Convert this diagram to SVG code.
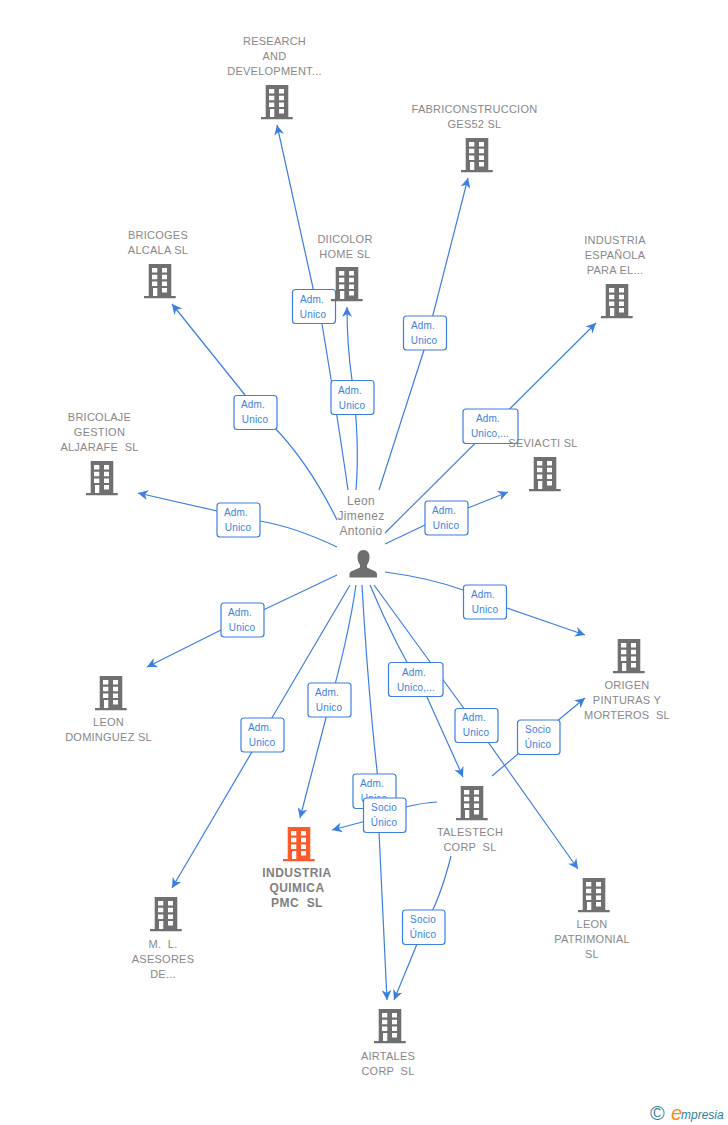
<svg xmlns="http://www.w3.org/2000/svg" xmlns:xlink="http://www.w3.org/1999/xlink" width="728" height="1125" viewBox="0 0 728 1125">
<style>
text{font-family:"Liberation Sans",Arial,sans-serif;white-space:pre}
.n{font-size:11px;fill:#888;text-anchor:middle;letter-spacing:.25px}
.main{font-size:12px;font-weight:bold;fill:#808080;text-anchor:middle;letter-spacing:.45px}
.person{font-size:12px;fill:#888;text-anchor:middle;letter-spacing:.35px}
.e{fill:none;stroke:#3c7fe0;stroke-width:1.2;marker-end:url(#a)}
.l rect{fill:#fff;stroke:#3c7fe0;stroke-width:1.2}
.l text{font-size:10px;fill:#3c7fe0;text-anchor:middle;letter-spacing:.15px}
</style>
<defs>
<marker id="a" viewBox="0 0 11 10" refX="10" refY="5" markerWidth="11" markerHeight="10" markerUnits="userSpaceOnUse" orient="auto"><path d="M0 0L10 5L0 10L3 5Z" fill="#3c7fe0"/></marker>
<symbol id="b" viewBox="0 0 32 35" width="32" height="35" overflow="visible">
<path fill-rule="evenodd" d="M4.700 0H27.300V32H31.700V34.300H0V32H4.700ZM8 4V8.500H13.300V4ZM18 4V8.500H23V4ZM8 10.800V15.200H13.300V10.800ZM18 10.800V15.200H23V10.800ZM8 17.500V22H13.300V17.500ZM18 17.500V22H23V17.500ZM9 24V32H13.300V24ZM18 24V28.500H23V24Z"/>
</symbol>
</defs>
<rect width="728" height="1125" fill="#fff"/>
<g id="connectors">
<path class="e" d="M348 490Q338 420 322 324L313 288L277 125"/>
<path class="e" d="M356 490Q360 440 352 380Q347 345 347 307"/>
<path class="e" d="M379 490L424 350L468 178"/>
<path class="e" d="M337 520Q310 465 275 428L245 395L172 304"/>
<path class="e" d="M337 547Q295 527 260 521L217 511L138 493"/>
<path class="e" d="M385 533L596 323"/>
<path class="e" d="M385 544L425 525M468 508L508 492"/>
<path class="e" d="M385 572Q430 578 463 590L507 608L585 635"/>
<path class="e" d="M337 575L221 630L147 667"/>
<path class="e" d="M350 585L172 888"/>
<path class="e" d="M356 585Q348 640 328 710L300 818"/>
<path class="e" d="M370 585Q395 645 427 697L463 777"/>
<path class="e" d="M374 585L476 725L578 869"/>
<path class="e" d="M362 585Q368 690 377.500 775L379 832L387 1000"/>
<path class="e" d="M437 802Q405 804 385 816L332 830"/>
<path class="e" d="M492 776L538 737L585 698"/>
<path class="e" d="M451 856Q440 900 424 927L394 1000"/>
</g>
<g id="edge-labels" class="l">
<g><rect x="292.500" y="289.500" width="43" height="34" rx="3"/><text x="312" y="303">Adm.</text><text x="313" y="318">Unico</text></g>
<g><rect x="331" y="380.500" width="43" height="34" rx="3"/><text x="350" y="394">Adm.</text><text x="352" y="409">Unico</text></g>
<g><rect x="403.500" y="316" width="43" height="34" rx="3"/><text x="423" y="329">Adm.</text><text x="424" y="344">Unico</text></g>
<g><rect x="234" y="395.500" width="43" height="34" rx="3"/><text x="253" y="408">Adm.</text><text x="255" y="423">Unico</text></g>
<g><rect x="463" y="409" width="55" height="34.500" rx="3"/><text x="488" y="422">Adm.</text><text x="490" y="437">Unico,...</text></g>
<g><rect x="425" y="501" width="43" height="34" rx="3"/><text x="444" y="514">Adm.</text><text x="446" y="529">Unico</text></g>
<g><rect x="217" y="503" width="43" height="34" rx="3"/><text x="236" y="516">Adm.</text><text x="238" y="531">Unico</text></g>
<g><rect x="463.500" y="585" width="43" height="34" rx="3"/><text x="483" y="598">Adm.</text><text x="485" y="613">Unico</text></g>
<g><rect x="221" y="603" width="43" height="34" rx="3"/><text x="240" y="616">Adm.</text><text x="242" y="631">Unico</text></g>
<g><rect x="241" y="718" width="43" height="34" rx="3"/><text x="260" y="731">Adm.</text><text x="262" y="746">Unico</text></g>
<g><rect x="308" y="683" width="43" height="34" rx="3"/><text x="327" y="696">Adm.</text><text x="329" y="711">Unico</text></g>
<g><rect x="388.500" y="662.500" width="54.500" height="34" rx="3"/><text x="414" y="676">Adm.</text><text x="416" y="691">Unico,...</text></g>
<g><rect x="455" y="708.500" width="43" height="34" rx="3"/><text x="474" y="721">Adm.</text><text x="476" y="736">Unico</text></g>
<g><rect x="353" y="774" width="43" height="34.500" rx="3"/><text x="372" y="787">Adm.</text><text x="374" y="802">Unico</text></g>
<g><rect x="363.500" y="798" width="42.500" height="34.500" rx="3"/><text x="384" y="811">Socio</text><text x="384" y="826">Único</text></g>
<g><rect x="517.500" y="720" width="42.500" height="34.500" rx="3"/><text x="538" y="733">Socio</text><text x="538" y="748">Único</text></g>
<g><rect x="402.500" y="910" width="42.500" height="34.500" rx="3"/><text x="423" y="923">Socio</text><text x="423" y="938">Único</text></g>
</g>
<g id="person"><text class="person" x="361" y="505">Leon</text><text class="person" x="361" y="520">Jimenez</text><text class="person" x="361" y="535">Antonio</text>
<path fill="#6f6f6f" d="M363.500 550C359.500 550 357.500 553 357.500 557C357.500 560 358.500 563 360 565V567.500C356 570 350 570.500 349.500 574V577.500H377V574C376.500 570.500 371 570 367 567.500V565C368.500 563 369.500 560 369.500 557C369.500 553 367.500 550 363.500 550Z"/></g>
<g id="n1" fill="#707070"><use xlink:href="#b" href="#b" x="261" y="85"/><text class="n" x="274.500" y="45">RESEARCH</text><text class="n" x="274.500" y="60">AND</text><text class="n" x="274.500" y="75">DEVELOPMENT...</text></g>
<g id="n2" fill="#707070"><use xlink:href="#b" href="#b" x="461" y="138"/><text class="n" x="474.500" y="113">FABRICONSTRUCCION</text><text class="n" x="474.500" y="128">GES52 SL</text></g>
<g id="n3" fill="#707070"><use xlink:href="#b" href="#b" x="144" y="264"/><text class="n" x="158" y="239">BRICOGES</text><text class="n" x="158" y="254">ALCALA SL</text></g>
<g id="n4" fill="#707070"><use xlink:href="#b" href="#b" x="331" y="267"/><text class="n" x="345" y="243">DIICOLOR</text><text class="n" x="345" y="258">HOME SL</text></g>
<g id="n5" fill="#707070"><use xlink:href="#b" href="#b" x="601" y="284"/><text class="n" x="615" y="244">INDUSTRIA</text><text class="n" x="615" y="259">ESPAÑOLA</text><text class="n" x="615" y="274">PARA EL...</text></g>
<g id="n6" fill="#707070"><use xlink:href="#b" href="#b" x="529" y="457"/><text class="n" x="543" y="447">SEVIACTI SL</text></g>
<g id="n7" fill="#707070"><use xlink:href="#b" href="#b" x="86" y="461"/><text class="n" x="99.500" y="421">BRICOLAJE</text><text class="n" x="99.500" y="436">GESTION</text><text class="n" x="99.500" y="451">ALJARAFE  SL</text></g>
<g id="n8" fill="#707070"><use xlink:href="#b" href="#b" x="95" y="676"/><text class="n" x="108.500" y="726">LEON</text><text class="n" x="108.500" y="741">DOMINGUEZ SL</text></g>
<g id="n9" fill="#707070"><use xlink:href="#b" href="#b" x="613" y="639"/><text class="n" x="627" y="689">ORIGEN</text><text class="n" x="627" y="704">PINTURAS Y</text><text class="n" x="627" y="719">MORTEROS  SL</text></g>
<g id="n10" fill="#707070"><use xlink:href="#b" href="#b" x="456" y="786"/><text class="n" x="470" y="836">TALESTECH</text><text class="n" x="470" y="851">CORP  SL</text></g>
<g id="n11" fill="#ff5a2c"><use xlink:href="#b" href="#b" x="283" y="827"/><text class="main" x="297" y="877">INDUSTRIA</text><text class="main" x="297" y="892">QUIMICA</text><text class="main" x="297" y="907">PMC  SL</text></g>
<g id="n12" fill="#707070"><use xlink:href="#b" href="#b" x="150" y="897"/><text class="n" x="163" y="948">M.  L.</text><text class="n" x="163" y="963">ASESORES</text><text class="n" x="163" y="978">DE...</text></g>
<g id="n13" fill="#707070"><use xlink:href="#b" href="#b" x="578" y="878"/><text class="n" x="592" y="928">LEON</text><text class="n" x="592" y="943">PATRIMONIAL</text><text class="n" x="592" y="958">SL</text></g>
<g id="n14" fill="#707070"><use xlink:href="#b" href="#b" x="374" y="1009"/><text class="n" x="388" y="1060">AIRTALES</text><text class="n" x="388" y="1075">CORP  SL</text></g>
<g id="logo"><text x="650" y="1120" font-size="20" fill="#3f7f99">©</text><text x="671" y="1120" font-size="20" font-style="italic" fill="#f58a1f">e</text><text x="681" y="1119" font-size="12" font-style="italic" fill="#2f7f96">mpresia</text></g>
</svg>
